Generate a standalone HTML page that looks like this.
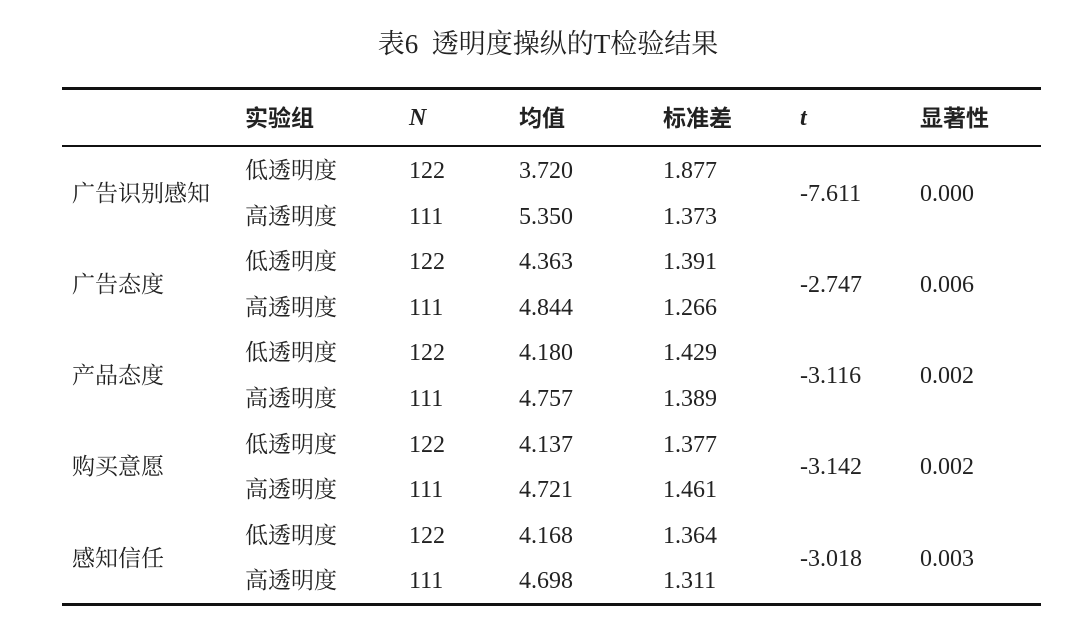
<!DOCTYPE html>
<html><head><meta charset="utf-8"><style>
body{margin:0;width:1080px;height:629px;background:#fff;position:relative;overflow:hidden;font-family:"Liberation Serif","Noto Serif CJK SC",serif;color:#222}
.t{position:absolute;font-size:24px;line-height:24px;white-space:nowrap;transform:translateY(-50%)}
.cj{font-family:"Liberation Serif","Noto Serif CJK SC",serif;font-size:23px}
.hd{font-family:"Liberation Sans","Noto Sans CJK SC",sans-serif;font-weight:bold;font-size:23px}
.b{font-weight:bold}
.line{position:absolute;left:62px;width:979px;background:#111}
</style></head><body>
<div class="t" style="left:0;width:1096px;text-align:center;top:44px;font-size:27px;font-family:'Liberation Serif','Noto Serif CJK SC',serif">表6&nbsp; 透明度操纵的T检验结果</div>
<div class="line" style="top:87px;height:3px"></div>
<div class="line" style="top:145px;height:2px"></div>
<div class="line" style="top:603px;height:3px"></div>
<div class="t hd" style="left:245px;top:118px">实验组</div>
<div class="t b" style="left:409px;top:118px;font-style:italic">N</div>
<div class="t hd" style="left:519px;top:118px">均值</div>
<div class="t hd" style="left:663px;top:118px">标准差</div>
<div class="t b" style="left:800px;top:118px;font-style:italic">t</div>
<div class="t hd" style="left:920px;top:118px">显著性</div>
<div id="rows"></div>
<script>
var d=[["广告识别感知","3.720","1.877","5.350","1.373","-7.611","0.000"],
["广告态度","4.363","1.391","4.844","1.266","-2.747","0.006"],
["产品态度","4.180","1.429","4.757","1.389","-3.116","0.002"],
["购买意愿","4.137","1.377","4.721","1.461","-3.142","0.002"],
["感知信任","4.168","1.364","4.698","1.311","-3.018","0.003"]];
var h="";
d.forEach(function(r,i){var y1=171+i*91.2,y2=y1+45.5,m=(y1+y2)/2;
h+='<div class="t cj" style="left:72px;top:'+m+'px">'+r[0]+'</div>';
h+='<div class="t cj" style="left:245px;top:'+y1+'px">低透明度</div><div class="t" style="left:409px;top:'+y1+'px">122</div><div class="t" style="left:519px;top:'+y1+'px">'+r[1]+'</div><div class="t" style="left:663px;top:'+y1+'px">'+r[2]+'</div>';
h+='<div class="t cj" style="left:245px;top:'+y2+'px">高透明度</div><div class="t" style="left:409px;top:'+y2+'px">111</div><div class="t" style="left:519px;top:'+y2+'px">'+r[3]+'</div><div class="t" style="left:663px;top:'+y2+'px">'+r[4]+'</div>';
h+='<div class="t" style="left:800px;top:'+m+'px">'+r[5]+'</div><div class="t" style="left:920px;top:'+m+'px">'+r[6]+'</div>';});
document.getElementById("rows").innerHTML=h;
</script>
</body></html>
